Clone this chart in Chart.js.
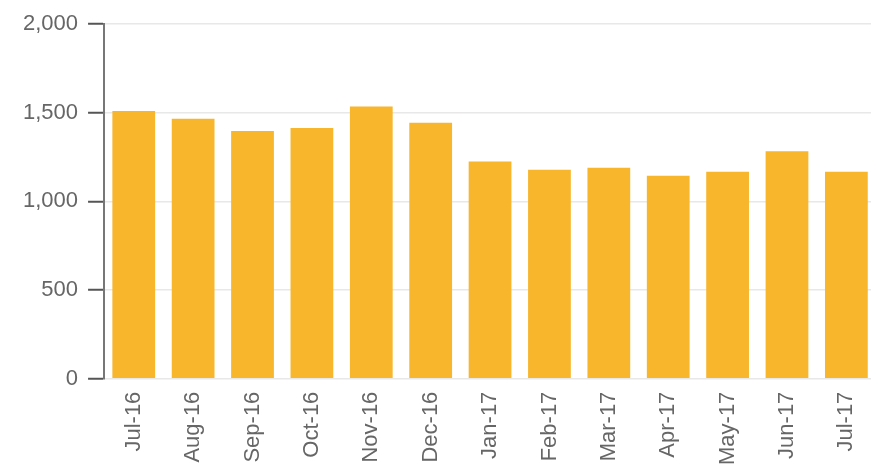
<!DOCTYPE html>
<html>
<head>
<meta charset="utf-8">
<script src="https://cdn.jsdelivr.net/npm/chart.js@4.4.0/dist/chart.umd.min.js"></script>
<style>
  html, body { margin: 0; padding: 0; background: #fff; overflow: hidden; }
  #wrap { width: 886px; height: 490px; }
</style>
</head>
<body>
<div id="wrap"><canvas id="c" width="886" height="490"></canvas></div>
<script>
const categories = ["Jul-16", "Aug-16", "Sep-16", "Oct-16", "Nov-16", "Dec-16", "Jan-17", "Feb-17", "Mar-17", "Apr-17", "May-17", "Jun-17", "Jul-17"];
const values = [1510, 1465, 1397, 1414, 1535, 1443, 1224, 1178, 1190, 1144, 1167, 1282, 1167];
const yTicks = [0, 500, 1000, 1500, 2000];

const labelFont = { family: "'Helvetica Neue', Helvetica, Arial, sans-serif", size: 22 };

new Chart(document.getElementById('c'), {
  type: 'bar',
  data: {
    labels: categories,
    datasets: [{
      data: values,
      backgroundColor: '#f8b62d',
      borderWidth: 0,
      barPercentage: 0.9,
      categoryPercentage: 0.8
    }]
  },
  options: {
    responsive: false,
    animation: false,
    layout: { padding: { left: 13, right: 6, top: 24, bottom: 12 } },
    plugins: { legend: { display: false }, tooltip: { enabled: false } },
    scales: {
      x: {
        grid: { display: false, drawTicks: false },
        border: { display: false },
        ticks: { color: '#666', font: labelFont, minRotation: 90, maxRotation: 90, padding: 13, autoSkip: false }
      },
      y: {
        min: 0,
        max: 2000,
        afterBuildTicks: (axis) => { axis.ticks = yTicks.map(v => ({ value: v })); },
        grid: { color: '#e8e8e8', lineWidth: 1.5, tickColor: '#555', tickLength: 16, tickWidth: 2 },
        border: { display: true, color: '#777', width: 2 },
        ticks: { color: '#666', font: labelFont, padding: 10,
          callback: (v) => v.toLocaleString('en-US') }
      }
    }
  }
});
</script>
</body>
</html>
